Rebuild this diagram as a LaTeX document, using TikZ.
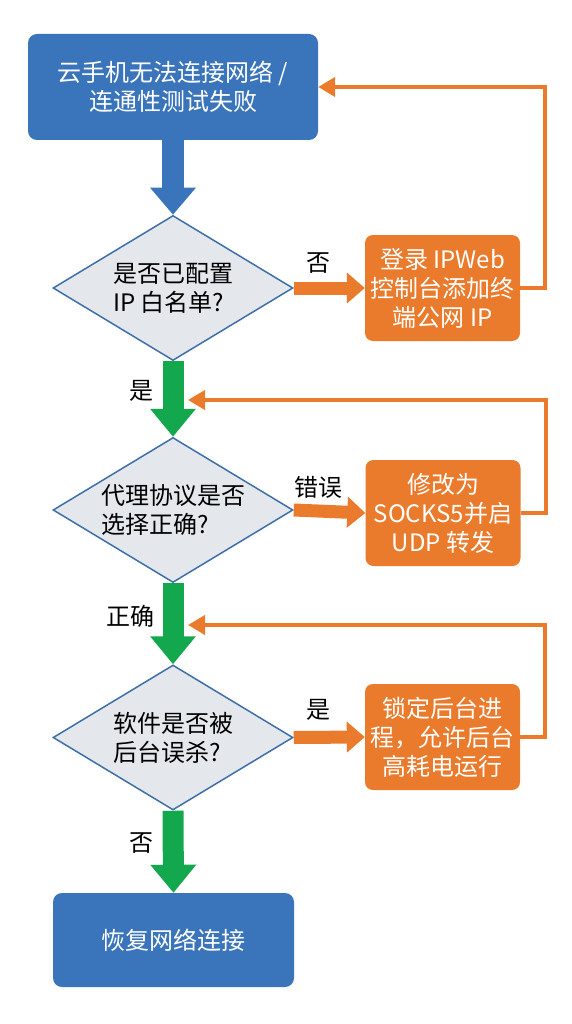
\documentclass[tikz,border=0pt]{standalone}
\usepackage{fontspec}
\setmainfont{Noto Sans CJK SC}
\usetikzlibrary{shapes.geometric,arrows.meta}
\definecolor{boxblue}{HTML}{3A74BA}
\definecolor{fixorange}{HTML}{EA7B2C}
\definecolor{flowgreen}{HTML}{14A84E}
\definecolor{decfill}{HTML}{E4E8ED}
\definecolor{decborder}{HTML}{3E6FA8}
\newcommand{\bodyfont}{\fontsize{24pt}{29pt}\selectfont}
\begin{document}
\begin{tikzpicture}[x=1pt,y=-1pt,
  startend/.style={fill=boxblue, rounded corners=9pt, text=white, align=center, inner sep=0pt, font=\bodyfont},
  dec/.style={diamond, draw=decborder, line width=1.5pt, fill=decfill, minimum width=240pt, minimum height=145pt, inner sep=0pt},
  dectext/.style={align=left, inner sep=0pt, font=\bodyfont, text=black},
  fixbox/.style={fill=fixorange, rounded corners=8pt, text=white, minimum width=155pt, minimum height=106pt, align=center, inner sep=0pt, font=\bodyfont},
  blueflow/.style={draw=boxblue, line width=22pt, -{Triangle[length=27pt,width=44pt]}},
  greenflow/.style={draw=flowgreen, line width=21pt, -{Triangle[length=28pt,width=44pt]}},
  sideflow/.style={draw=fixorange, line width=13pt, -{Triangle[length=18pt,width=30pt]}},
  backflow/.style={draw=fixorange, line width=4pt, -{Triangle[length=17pt,width=19pt]}},
  lbl/.style={font=\bodyfont, text=black, inner sep=0pt}
]
\useasboundingbox[fill=white] (0,0) rectangle (572,1024);

% nodes
\node[startend, minimum width=290pt, minimum height=106pt] (top) at (173,87) {云手机无法连接网络 /\\连通性测试失败};
\node[dec] (d1) at (173,288) {};
\node[dectext] (t1) at (d1.center) {是否已配置\\IP 白名单?};
\node[dec] (d2) at (173,510) {};
\node[dectext] (t2) at (d2.center) {代理协议是否\\选择正确?};
\node[dec] (d3) at (173,737.5) {};
\node[dectext] (t3) at (d3.center) {软件是否被\\后台误杀?};
\node[startend, minimum width=241pt, minimum height=94pt] (end) at (173.5,940) {恢复网络连接};

\node[fixbox] (b1) at (442.5,288) {登录 IPWeb\\控制台添加终\\端公网 IP};
\node[fixbox] (b2) at (443,513) {修改为\\SOCKS5并启\\UDP 转发};
\node[fixbox] (b3) at (442.5,737) {锁定后台进\\程，允许后台\\高耗电运行};

\coordinate (f2) at (188,400);
\coordinate (f3) at (188,625);

% main flow
\draw[blueflow] (top.south) -- (d1.north);
\draw[greenflow] (d1.south) -- (d2.north);
\draw[greenflow] (d2.south) -- (d3.north);
\draw[greenflow] (d3.south) -- (end.north);

% side flows
\draw[sideflow] (d1.east) -- (b1.west);
\draw[sideflow] (d2.east) -- (b2.west);
\draw[sideflow] (d3.east) -- (b3.west);

% feedback
\draw[backflow] (b1.east) -- ++(25,0) |- (top.east);
\draw[backflow] (b2.east) -- ++(25,0) |- (f2);
\draw[backflow] (b3.east) -- ++(25,0) |- (f3);

% labels
\node[lbl] (l1) at (318,263) {否};
\node[lbl] (l2) at (318,487) {错误};
\node[lbl] (l3) at (318,710) {是};
\node[lbl] (l4) at (141,391) {是};
\node[lbl] (l5) at (130,616) {正确};
\node[lbl] (l6) at (141,843) {否};
\end{tikzpicture}
\end{document}
